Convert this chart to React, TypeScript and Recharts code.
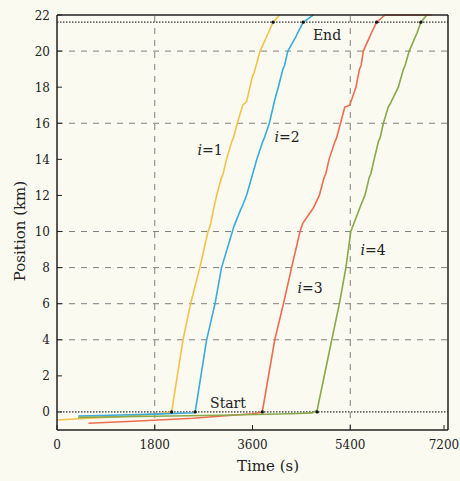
import React from "react";
import {
    ComposedChart,
    Line,
    XAxis,
    YAxis,
    ReferenceLine,
    ReferenceDot,
} from "recharts";

// time (s) / position (km) traces for each train
const time1 = [0, 600, 1200, 1800, 2110, 2320, 2460, 2630, 2780, 2820, 2880, 2940, 3030, 3060, 3120, 3220, 3250, 3320, 3420, 3490, 3600, 3630, 3740, 3860, 3890, 3980, 4100];
const pos1 = [-0.45, -0.35, -0.25, -0.12, 0, 4, 6, 8, 10, 10.3, 11.2, 12, 13, 13.2, 14, 15, 15.2, 16, 17, 17.2, 18.6, 18.8, 20, 20.8, 21, 21.6, 22];

const time2 = [390, 1000, 1800, 2520, 2545, 2755, 2910, 3030, 3230, 3260, 3380, 3410, 3490, 3680, 3790, 3820, 3910, 4010, 4075, 4160, 4190, 4250, 4400, 4430, 4535, 4720];
const pos2 = [-0.22, -0.18, -0.12, -0.04, 0, 4, 6, 8, 10, 10.3, 11.2, 11.4, 12, 14, 15, 15.2, 16, 17.3, 18, 19, 19.2, 20, 20.8, 21, 21.6, 22];

const time3 = [580, 1500, 2500, 3600, 3780, 4010, 4170, 4320, 4475, 4525, 4720, 4830, 4920, 4950, 5010, 5120, 5150, 5220, 5300, 5390, 5505, 5570, 5600, 5640, 5760, 5790, 5885, 6040, 6900];
const pos3 = [-0.63, -0.5, -0.35, -0.1, 0, 4, 6, 8, 10, 10.45, 11.3, 12, 13, 13.2, 14, 15, 15.2, 16, 16.9, 17, 18, 19, 19.2, 20, 20.8, 21, 21.6, 22, 22];

const time4 = [390, 1500, 3000, 4300, 4700, 4790, 5060, 5200, 5320, 5410, 5600, 5670, 5750, 5780, 5840, 5920, 5950, 6010, 6100, 6140, 6285, 6380, 6410, 6485, 6600, 6630, 6700, 6810];
const pos4 = [-0.3, -0.25, -0.18, -0.1, -0.05, 0.1, 4, 6, 8, 10, 11.5, 12, 13, 13.2, 14, 15, 15.2, 16, 16.9, 17.1, 18, 19, 19.2, 20, 20.8, 21, 21.6, 22];

const START_POS = 0;
const END_POS = 21.6;
const startTimes = [2110, 2545, 3780, 4790];
const endTimes = [3980, 4535, 5885, 6700];

const xTicks = [0, 1800, 3600, 5400, 7200];
const yTicks = [0, 2, 4, 6, 8, 10, 12, 14, 16, 18, 20, 22];
const gridRows = [4, 6, 8, 10, 16, 20];
const gridCols = [1800, 5400];

const SERIES = [
    { name: "i=1", times: time1, pos: pos1, color: "#f3c24a" },
    { name: "i=2", times: time2, pos: pos2, color: "#3aabde" },
    { name: "i=3", times: time3, pos: pos3, color: "#ee6d4f" },
    { name: "i=4", times: time4, pos: pos4, color: "#88a84a" },
];

const FONT = "'DejaVu Serif', serif";
const INK = "#222";

function LeftTick({ x, y, payload }: any) {
    return (
        <g>
            <line x1={x + 7} x2={x + 12} y1={y} y2={y} stroke={INK} strokeWidth={1} />
            <text x={x} y={y} dy={4.5} textAnchor="end" fontSize={12} fontFamily={FONT} fill={INK}>
                {payload.value}
            </text>
        </g>
    );
}

function BottomTick({ x, y, payload }: any) {
    return (
        <g>
            <line x1={x} x2={x} y1={y - 8} y2={y - 13} stroke={INK} strokeWidth={1} />
            <text x={x} y={y + 11} textAnchor="middle" fontSize={12} fontFamily={FONT} fill={INK}>
                {payload.value}
            </text>
        </g>
    );
}

// inward tick marks on the right and top frame sides
function RightTick({ x, y }: any) {
    return <line x1={x - 5} x2={x} y1={y} y2={y} stroke={INK} strokeWidth={1} />;
}

function TopTick({ x, y }: any) {
    return <line x1={x} x2={x} y1={y} y2={y + 5} stroke={INK} strokeWidth={1} />;
}

const labels = [
    { text: "i=1", x: 210, y: 150 },
    { text: "i=2", x: 287, y: 137 },
    { text: "i=3", x: 310, y: 288 },
    { text: "i=4", x: 373, y: 250 },
];

export default function App() {
    return (
        <div style={{ position: "absolute", left: 0, top: 0, width: 460, height: 481, background: "#fbfaf1", overflow: "hidden" }}>
            <ComposedChart width={460} height={481} margin={{ top: 14, right: 0, bottom: 0, left: 0 }}>
                <XAxis
                    type="number"
                    dataKey="t"
                    domain={[0, 7200]}
                    ticks={xTicks}
                    height={51}
                    tickSize={0}
                    tickMargin={8}
                    tickLine={false}
                    tick={<BottomTick />}
                    axisLine={{ stroke: INK, strokeWidth: 1.5 }}
                />
                <XAxis
                    xAxisId="top"
                    orientation="top"
                    type="number"
                    domain={[0, 7200]}
                    ticks={xTicks}
                    height={1}
                    tickSize={0}
                    tickMargin={0}
                    tickLine={false}
                    tick={<TopTick />}
                    axisLine={{ stroke: INK, strokeWidth: 1.5 }}
                />
                <YAxis
                    type="number"
                    domain={[-1, 22]}
                    ticks={yTicks}
                    width={57}
                    tickSize={0}
                    tickMargin={7}
                    tickLine={false}
                    tick={<LeftTick />}
                    axisLine={{ stroke: INK, strokeWidth: 1.5 }}
                />
                <YAxis
                    yAxisId="right"
                    orientation="right"
                    type="number"
                    domain={[-1, 22]}
                    ticks={yTicks}
                    width={12}
                    tickSize={0}
                    tickMargin={0}
                    tickLine={false}
                    tick={<RightTick />}
                    axisLine={{ stroke: INK, strokeWidth: 1.5 }}
                />

                {gridRows.map((v) => (
                    <ReferenceLine key={"r" + v} y={v} stroke="#808080" strokeWidth={1} strokeDasharray="6 6" />
                ))}
                {gridCols.map((v) => (
                    <ReferenceLine key={"c" + v} x={v} stroke="#808080" strokeWidth={1} strokeDasharray="6 6" />
                ))}
                <ReferenceLine y={START_POS} stroke="#333" strokeWidth={1.3} strokeDasharray="1.5 1.5" />
                <ReferenceLine y={END_POS} stroke="#333" strokeWidth={1.3} strokeDasharray="1.5 1.5" />

                {SERIES.map((s) => (
                    <Line
                        key={s.name}
                        data={s.times.map((t, i) => ({ t, p: s.pos[i] }))}
                        dataKey="p"
                        type="linear"
                        stroke={s.color}
                        strokeWidth={1.6}
                        dot={false}
                        activeDot={false}
                        isAnimationActive={false}
                    />
                ))}

                {startTimes.map((t) => (
                    <ReferenceDot key={"s" + t} x={t} y={START_POS} r={1.6} fill="#111" stroke="none" />
                ))}
                {endTimes.map((t) => (
                    <ReferenceDot key={"e" + t} x={t} y={END_POS} r={1.6} fill="#111" stroke="none" />
                ))}
            </ComposedChart>

            {labels.map((l) => (
                <div
                    key={l.text}
                    style={{ position: "absolute", left: l.x, top: l.y, transform: "translate(-50%, -50%)", fontFamily: FONT, fontSize: 14, color: INK, whiteSpace: "nowrap" }}
                >
                    <i>i</i>
                    {l.text.slice(1)}
                </div>
            ))}
            <div style={{ position: "absolute", left: 327, top: 35, transform: "translate(-50%, -50%)", fontFamily: FONT, fontSize: 14, color: INK }}>End</div>
            <div style={{ position: "absolute", left: 228, top: 403, transform: "translate(-50%, -50%)", fontFamily: FONT, fontSize: 14, color: INK }}>Start</div>
            <div style={{ position: "absolute", left: 268, top: 466, transform: "translate(-50%, -50%)", fontFamily: FONT, fontSize: 15, color: INK, whiteSpace: "nowrap" }}>Time (s)</div>
            <div
                style={{ position: "absolute", left: 20, top: 231, transform: "translate(-50%, -50%) rotate(-90deg)", fontFamily: FONT, fontSize: 15, color: INK, whiteSpace: "nowrap" }}
            >
                Position (km)
            </div>
        </div>
    );
}
